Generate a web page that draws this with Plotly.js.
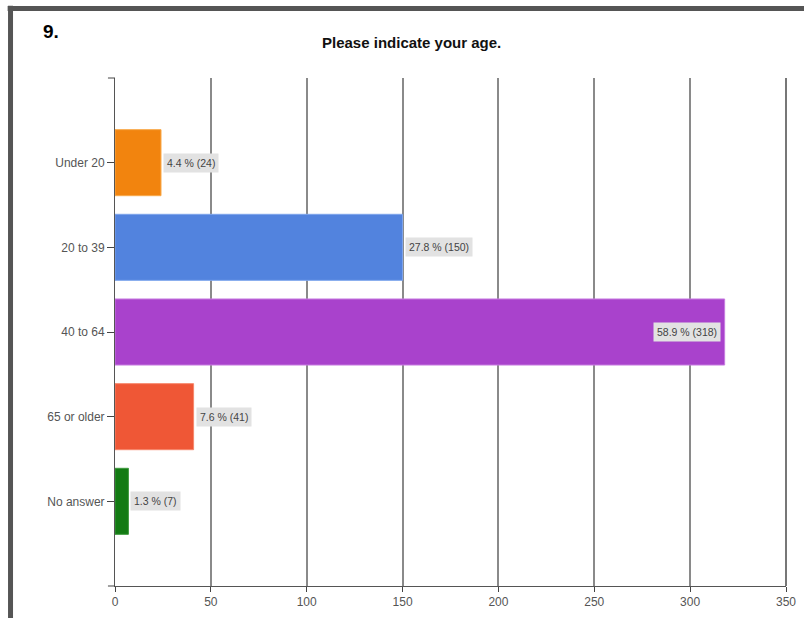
<!DOCTYPE html>
<html>
<head>
<meta charset="utf-8">
<script src="https://cdn.plot.ly/plotly-3.0.1.min.js"></script>
<style>html,body{margin:0;padding:0;background:#fff;}#chart{width:804px;height:618px;}</style>
</head>
<body>
<div id="chart"></div>
<script>
const categories = ['Under 20', '20 to 39', '40 to 64', '65 or older', 'No answer'];
const counts = [24, 150, 318, 41, 7];
const percents = [4.4, 27.8, 58.9, 7.6, 1.3];
const barColors = ['#F2840E', '#5283DE', '#A942CC', '#EF5736', '#137A13'];
const barEdges = ['#F9A94A', '#7FA6EC', '#C77BE0', '#F7876C', '#3E9A3E'];
const xTicks = [0, 50, 100, 150, 200, 250, 300, 350];
const questionNumber = '9.';
const questionTitle = 'Please indicate your age.';

const trace = {
  type: 'bar',
  orientation: 'h',
  y: categories,
  x: counts,
  width: 0.78,
  marker: {color: barColors, line: {color: barEdges, width: 1}},
  hoverinfo: 'none'
};

const maxCount = Math.max(...counts);
const annotations = categories.map((c, i) => {
  const inside = counts[i] === maxCount;
  return {
    x: counts[i], y: c, xref: 'x', yref: 'y',
    text: percents[i].toFixed(1) + ' % (' + counts[i] + ')',
    showarrow: false,
    xanchor: inside ? 'right' : 'left',
    xshift: inside ? -4 : 2,
    bgcolor: '#e2e2e2',
    borderpad: 3,
    font: {family: 'Liberation Sans, Arial, sans-serif', size: 10.5, color: '#444'}
  };
});
annotations.push({
  text: '<b>' + questionNumber + '</b>', xref: 'paper', yref: 'paper',
  x: -0.111, y: 1.091, xanchor: 'left', yanchor: 'middle', showarrow: false,
  font: {family: 'Liberation Sans, Arial, sans-serif', size: 19, color: '#000'}
});

const layout = {
  width: 804, height: 618,
  margin: {l: 115, r: 18, t: 78, b: 32, pad: 0},
  paper_bgcolor: '#fff', plot_bgcolor: '#fff',
  showlegend: false,
  title: {
    text: '<b>' + questionTitle + '</b>',
    xref: 'container', x: 0.512, xanchor: 'center',
    yref: 'container', y: 0.931, yanchor: 'middle',
    font: {family: 'Liberation Sans, Arial, sans-serif', size: 15, color: '#111'}
  },
  xaxis: {
    range: [0, 350], tickvals: xTicks, ticks: 'outside', ticklen: 5, tickcolor: '#444',
    showgrid: true, gridcolor: '#8a8a8a', gridwidth: 2,
    showline: true, linecolor: '#555', linewidth: 1, zeroline: false,
    tickfont: {family: 'Liberation Sans, Arial, sans-serif', size: 12, color: '#555'},
    fixedrange: true
  },
  yaxis: {
    type: 'category', categoryorder: 'array', categoryarray: categories,
    range: [5, -1], ticks: 'outside', ticklen: 7, tickcolor: '#444',
    showgrid: false, showline: true, linecolor: '#555', linewidth: 1, zeroline: false,
    tickfont: {family: 'Liberation Sans, Arial, sans-serif', size: 12, color: '#555'},
    fixedrange: true
  },
  annotations: annotations,
  shapes: [
    {type: 'line', xref: 'paper', yref: 'paper', x0: -0.16, x1: 1.03, y0: 1.1368, y1: 1.1368,
     line: {color: '#555', width: 5}},
    {type: 'line', xref: 'paper', yref: 'paper', x0: -0.1557, x1: -0.1557, y0: 1.142, y1: -0.07,
     line: {color: '#555', width: 5}},
    {type: 'line', xref: 'paper', yref: 'paper', x0: -0.0105, x1: 0, y0: 1, y1: 1,
     line: {color: '#444', width: 1}},
    {type: 'line', xref: 'paper', yref: 'paper', x0: -0.0105, x1: 0, y0: 0, y1: 0,
     line: {color: '#444', width: 1}},
    {type: 'line', xref: 'paper', yref: 'paper', x0: 1, x1: 1, y0: 0, y1: 1,
     line: {color: '#777', width: 2}}
  ]
};

Plotly.newPlot('chart', [trace], layout, {displayModeBar: false, staticPlot: true});
</script>
</body>
</html>
